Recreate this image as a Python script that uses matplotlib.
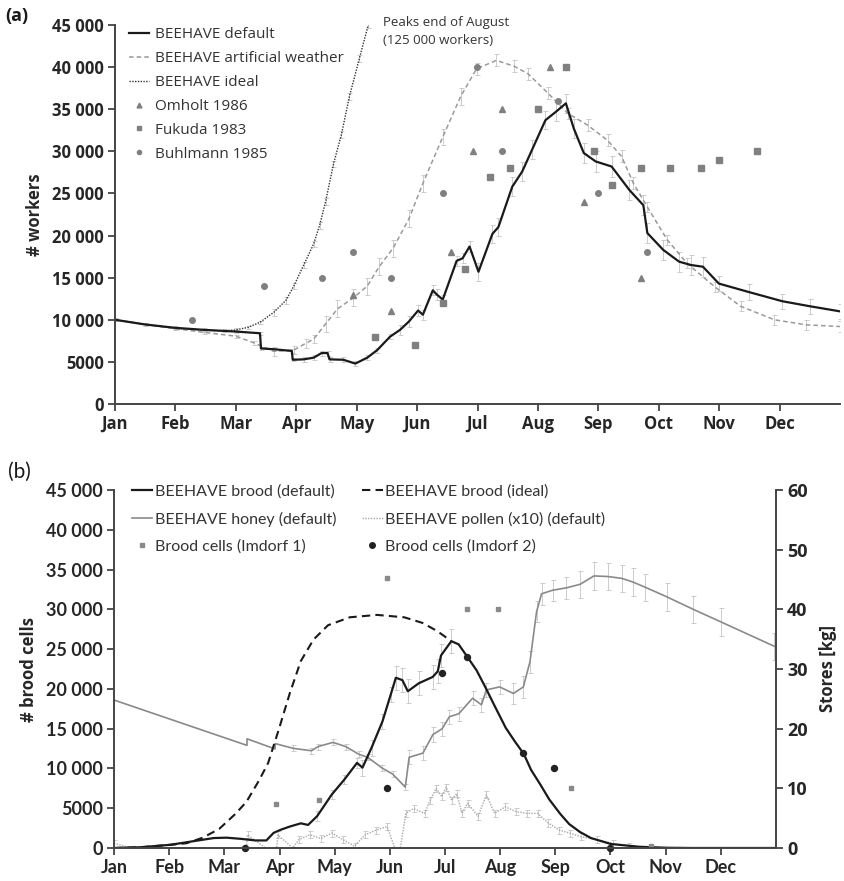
import numpy as np
import matplotlib
matplotlib.use("Agg")
import matplotlib.pyplot as plt
from matplotlib.lines import Line2D
from matplotlib.ticker import FuncFormatter

# ---- (a) workers, x = day of year ----
months = ["Jan", "Feb", "Mar", "Apr", "May", "Jun", "Jul", "Aug", "Sep", "Oct", "Nov", "Dec"]

def_day = [0, 15, 30, 45, 61, 73, 73.5, 80, 89, 89.5, 95, 100, 104, 107, 108, 115, 121, 127, 132, 138.5,
           143.5, 148, 152.6, 155, 160, 162, 165, 172, 175, 178.5, 183, 190, 193, 200, 205, 210, 216.7, 222, 227, 231,
           236, 242, 250, 259, 266, 268, 276, 284, 290, 296, 304, 319, 336, 350, 365]
def_val = [10000, 9450, 9050, 8800, 8600, 8400, 6600, 6500, 6300, 5250, 5300, 5500, 6050, 6050, 5300, 5250, 4800, 5500, 6400, 8000,
           8800, 9800, 11100, 10600, 13500, 13000, 12400, 17000, 17300, 18700, 15700, 20200, 21000, 25800, 27600, 30200, 33700, 34700, 35700, 32700,
           29800, 28800, 28200, 25400, 23600, 20300, 18300, 16900, 16500, 16300, 14300, 13300, 12200, 11600, 11000]
def_err = [200] * 10 + [300] * 10 + [600] * 10 + [1100] * 10 + [1200] * 10 + [900] * 5

art_day = [0, 15, 30, 45, 61, 70, 80, 90, 96, 100, 106, 112, 120, 127, 133, 140, 148, 155, 165, 174,
           182, 192, 201, 208, 218, 228, 238, 248, 255, 261, 268, 278, 288, 302, 315, 332, 348, 365]
art_val = [10000, 9450, 8950, 8500, 8050, 7250, 6250, 6400, 7200, 7700, 9500, 11300, 12600, 14000, 16300, 18500, 22000, 26200, 31700, 36500,
           39800, 40800, 40100, 39200, 36900, 34500, 33100, 31300, 29400, 26200, 23400, 19500, 16700, 13900, 11600, 10000, 9400, 9200]
art_err = [200] * 6 + [500] * 4 + [1000] * 10 + [700] * 10 + [600] * 8

ide_day = [0, 15, 30, 45, 55, 61, 67, 73, 80, 86, 90, 95, 100, 103, 106, 110, 114, 118, 123, 127.5]
ide_val = [10000, 9450, 9000, 8750, 8700, 8800, 9100, 9700, 10900, 12300, 14000, 16500, 19000, 21200, 24000, 28500, 32000, 36500, 41000, 45000]
ide_err = [200] * 8 + [400] * 12

omh_day = [120, 139, 169, 180, 195, 219, 236, 265]
omh_val = [13000, 11000, 18000, 30000, 35000, 40000, 24000, 15000]
fuk_day = [131, 151, 165, 176, 189, 199, 213, 227, 241, 250, 265, 279.5, 295, 304, 323]
fuk_val = [8000, 7000, 12000, 16000, 27000, 28000, 35000, 40000, 30000, 26000, 28000, 28000, 28000, 29000, 30000]
buh_day = [39, 75, 104, 120, 139, 165, 182, 195, 223, 243, 268]
buh_val = [10000, 14000, 15000, 18000, 15000, 25000, 40000, 30000, 36000, 25000, 18000]

# ---- (b) brood cells and stores ----
brood_day = [0, 15, 31, 45, 55, 62, 70, 78, 84, 88, 92, 97, 103, 107, 112, 120, 127, 134, 137, 142,
             148, 152.6, 155.4, 159, 162, 168, 175.7, 178.5, 180.3, 186, 190, 194, 200, 205, 210, 216, 221, 226, 230, 235,
             240, 246, 251, 257, 263, 274, 290, 305, 320, 365]
brood_val = [0, 100, 400, 900, 1250, 1300, 1150, 950, 950, 1900, 2300, 2700, 3100, 2900, 4000, 6700, 8600, 10700, 10100, 12600,
             15900, 19300, 21400, 21100, 19700, 20700, 21500, 22200, 24200, 26000, 25600, 24300, 22300, 20100, 17800, 15100, 13400, 11800, 9800, 8000,
             6100, 4300, 3000, 2000, 1250, 500, 150, 30, 0, 0]
brood_err = [0] * 14 + [600] * 4 + [1000] * 4 + [1500] * 8 + [0] * 20

ideal_day = [0, 15, 31, 40, 49, 58, 67, 73, 80, 85, 91, 97, 103, 110, 118, 130, 145, 160, 170, 178, 186]
ideal_val = [0, 100, 400, 600, 1300, 2400, 4300, 5800, 8500, 10700, 15000, 19500, 23500, 26200, 28000, 29000, 29300, 29000, 28300, 27300, 26000]

honey_m = [0, 2.41, 2.411, 2.92, 2.921, 3.25, 3.58, 3.7, 3.97, 4.2, 4.44, 4.6, 4.86, 5.05, 5.28, 5.35, 5.6, 5.78, 5.95, 6.08,
           6.25, 6.5, 6.66, 6.75, 6.99, 7.24, 7.42, 7.54, 7.66, 7.75, 7.95, 8.2, 8.45, 8.7, 8.95, 9.2, 9.4, 9.63, 10.02, 10.5,
           11.0, 11.97]
honey_kg = [24.8, 17.2, 18.3, 16.6, 17.5, 16.7, 16.3, 17.0, 17.7, 17.0, 15.7, 15.2, 13.4, 12.4, 10.2, 15.2, 15.9, 19.0, 20.0, 22.0,
            22.5, 25.1, 24.0, 26.5, 27.0, 25.9, 27.0, 31.2, 39.6, 42.6, 43.2, 43.6, 44.2, 45.6, 45.5, 45.2, 44.6, 43.7, 42.1, 40.0,
            37.9, 33.8]
honey_err = [0] * 5 + [0.5] * 10 + [1.2] * 10 + [1.8] * 7 + [2.3] * 10

pollen_m = [0, 0.3, 2.4, 2.42, 2.75, 2.95, 2.97, 3.24, 3.35, 3.55, 3.75, 3.95, 4.15, 4.36, 4.55, 4.75, 4.95, 5.09, 5.19, 5.29,
            5.43, 5.63, 5.73, 5.84, 5.94, 6.02, 6.12, 6.21, 6.31, 6.41, 6.6, 6.75, 6.9, 7.09, 7.29, 7.48, 7.68, 7.87, 8.07, 8.26,
            8.46, 8.75, 9.04, 9.34, 9.63, 12]
pollen_kg = [0.8, 0, 0, 2.2, 0, 0, 2.2, 0, 1.4, 2.2, 1.6, 2.5, 1.4, 0.3, 2.2, 3.0, 3.6, 0, 0, 5.8,
             6.6, 5.8, 8.0, 10.0, 8.6, 10.2, 8.0, 9.1, 5.8, 7.5, 5.3, 8.9, 5.8, 6.9, 6.1, 5.8, 5.8, 4.2, 3.0, 2.5,
             1.9, 1.4, 0.8, 0.3, 0, 0]
pollen_err = 0.6

imd1_m = [2.93, 3.71, 4.94, 6.4, 6.96, 8.28, 9.73]
imd1_val = [5500, 6000, 34000, 30000, 30000, 7500, 300]
imd2_m = [2.38, 4.94, 5.94, 6.4, 7.42, 7.98, 8.99]
imd2_val = [0, 7500, 22000, 24000, 12000, 10000, 0]

MONTH = 365 / 12
TXT = "#262626"
SPINE = "#444444"
EB = dict(fmt="none", ecolor="#c4c4c4", elinewidth=0.6, capsize=1.8, capthick=0.6)


def thousands(v, pos):
    v = int(round(v))
    if v >= 10000:
        return f"{v // 1000} {v % 1000:03d}"
    return str(v)


def errbars(ax, x, y, e, **kw):
    x, y, e = np.asarray(x, float), np.asarray(y, float), np.broadcast_to(np.asarray(e, float), np.shape(x))
    m = e > 0
    ax.errorbar(x[m], y[m], yerr=e[m], **kw)


def style_axis(ax, family, size):
    for s in ["top", "right"]:
        ax.spines[s].set_visible(False)
    for s in ["left", "bottom"]:
        ax.spines[s].set_color(SPINE)
        ax.spines[s].set_linewidth(1.4)
    ax.tick_params(direction="out", length=5, width=1.3, color=SPINE, labelcolor=TXT, pad=3)
    for lab in ax.get_xticklabels() + ax.get_yticklabels():
        lab.set_fontfamily(family)
        lab.set_fontweight("bold")
        lab.set_fontsize(size)


fig = plt.figure(figsize=(8.45, 8.81), dpi=100)

# ---------------- panel (a) ----------------
ax1 = fig.add_axes([115 / 845, 1 - 404 / 881, 725 / 845, 379 / 881])
errbars(ax1, ide_day, ide_val, ide_err, **EB)
errbars(ax1, art_day, art_val, art_err, **EB)
errbars(ax1, def_day, def_val, def_err, **EB)
ax1.plot(ide_day, ide_val, color="#333333", lw=1.0, ls=(0, (1, 1)))
ax1.plot(art_day, art_val, color="#9a9a9a", lw=1.1, ls=(0, (3, 2)))
ax1.plot(def_day, def_val, color="#1a1a1a", lw=1.6)
ax1.plot(omh_day, omh_val, ls="none", marker="^", ms=4.3, color="#808080")
ax1.plot(fuk_day, fuk_val, ls="none", marker="s", ms=4, color="#808080")
ax1.plot(buh_day, buh_val, ls="none", marker="o", ms=4, color="#808080")

ax1.set_xlim(0, 365)
ax1.set_ylim(0, 45000)
ax1.set_xticks([i * MONTH for i in range(12)])
ax1.set_xticklabels(months)
ax1.set_yticks(range(0, 45001, 5000))
ax1.yaxis.set_major_formatter(FuncFormatter(thousands))
style_axis(ax1, "Open Sans", 12)
ax1.set_ylabel("# workers", fontfamily="Open Sans", fontweight="bold", fontsize=12, color=TXT, labelpad=6)

h_a = [Line2D([], [], color="#1a1a1a", lw=1.6),
       Line2D([], [], color="#9a9a9a", lw=1.1, ls=(0, (3, 2))),
       Line2D([], [], color="#333333", lw=1.0, ls=(0, (1, 1))),
       Line2D([], [], ls="none", marker="^", ms=3.5, color="#808080"),
       Line2D([], [], ls="none", marker="s", ms=3, color="#808080"),
       Line2D([], [], ls="none", marker="o", ms=3, color="#808080")]
l_a = ["BEEHAVE default", "BEEHAVE artificial weather", "BEEHAVE ideal",
       "Omholt 1986", "Fukuda 1983", "Buhlmann 1985"]
leg = ax1.legend(h_a, l_a, loc="upper left", bbox_to_anchor=(0.0, 1.03), frameon=False,
                 handlelength=1.3, handletextpad=0.4, labelspacing=0.58,
                 prop={"family": "Open Sans", "size": 11})
for t in leg.get_texts():
    t.set_color("#333333")

ax1.text(135, 44200, "Peaks end of August\n(125 000 workers)", fontfamily="Open Sans", fontsize=9.5,
         color="#333333", va="center", ha="left", linespacing=1.55, clip_on=False)
fig.text(5 / 845, 1 - 16 / 881, "(a)", fontfamily="Open Sans", fontweight="bold", fontsize=13,
         color="#1a1a1a", va="center")

# ---------------- panel (b) ----------------
ax2 = fig.add_axes([114 / 845, 1 - 848 / 881, 662 / 845, 358 / 881])
ax2r = ax2.twinx()
ax2.set_zorder(ax2r.get_zorder() + 1)
ax2.patch.set_visible(False)

honey_day = np.array(honey_m) * MONTH
pollen_day = np.array(pollen_m) * MONTH
pk = np.array(pollen_kg)
errbars(ax2r, pollen_day, pk, np.where(pk > 0, pollen_err, 0), **EB)
errbars(ax2r, honey_day, honey_kg, honey_err, **EB)
ax2r.plot(pollen_day, pollen_kg, color="#a8a8a8", lw=1.0, ls=(0, (1, 1)))
ax2r.plot(honey_day, honey_kg, color="#8a8a8a", lw=1.2)

errbars(ax2, brood_day, brood_val, brood_err, **EB)
ax2.plot(ideal_day, ideal_val, color="#1a1a1a", lw=1.5, ls=(0, (4, 2.5)))
ax2.plot(brood_day, brood_val, color="#1a1a1a", lw=1.6)
ax2.plot(np.array(imd1_m) * MONTH, imd1_val, ls="none", marker="s", ms=3, color="#8a8a8a")
ax2.plot(np.array(imd2_m) * MONTH, imd2_val, ls="none", marker="o", ms=4.3, color="#222222", clip_on=False)

ax2.set_xlim(0, 365)
ax2.set_ylim(0, 45000)
ax2r.set_ylim(0, 60)
ax2.set_xticks([i * MONTH for i in range(12)])
ax2.set_xticklabels(months)
ax2.set_yticks(range(0, 45001, 5000))
ax2.yaxis.set_major_formatter(FuncFormatter(thousands))
ax2r.set_yticks(range(0, 61, 10))
style_axis(ax2, "Lato", 13)

for s in ["top", "left", "bottom"]:
    ax2r.spines[s].set_visible(False)
ax2r.spines["right"].set_color(SPINE)
ax2r.spines["right"].set_linewidth(1.4)
ax2r.tick_params(direction="out", length=5, width=1.3, color=SPINE, labelcolor=TXT, pad=3)
for lab in ax2r.get_yticklabels():
    lab.set_fontfamily("Open Sans")
    lab.set_fontweight("bold")
    lab.set_fontsize(13)

ax2.set_ylabel("# brood cells", fontfamily="Open Sans", fontweight="bold", fontsize=12, color=TXT, labelpad=6)
ax2r.set_ylabel("Stores [kg]", fontfamily="Open Sans", fontweight="bold", fontsize=12, color=TXT, labelpad=8)

h_b = [Line2D([], [], color="#1a1a1a", lw=1.6),
       Line2D([], [], color="#8a8a8a", lw=1.2),
       Line2D([], [], ls="none", marker="s", ms=3, color="#8a8a8a"),
       Line2D([], [], color="#1a1a1a", lw=1.5, ls=(0, (4, 2.5))),
       Line2D([], [], color="#a8a8a8", lw=1.0, ls=(0, (1, 1))),
       Line2D([], [], ls="none", marker="o", ms=4, color="#222222")]
l_b = ["BEEHAVE brood (default)", "BEEHAVE honey (default)", "Brood cells (Imdorf 1)",
       "BEEHAVE brood (ideal)", "BEEHAVE pollen (x10) (default)", "Brood cells (Imdorf 2)"]
leg2 = ax2.legend(h_b, l_b, ncol=2, loc="upper left", bbox_to_anchor=(0.005, 1.055), frameon=False,
                  handlelength=1.3, handletextpad=0.15, labelspacing=0.8, columnspacing=1.6,
                  prop={"family": "Lato", "size": 11.5})
for t in leg2.get_texts():
    t.set_color("#333333")

fig.text(8 / 845, 1 - 472 / 881, "(b)", fontfamily="Lato", fontsize=15, color="#1a1a1a", va="center")

fig.savefig("out.png", dpi=100)
